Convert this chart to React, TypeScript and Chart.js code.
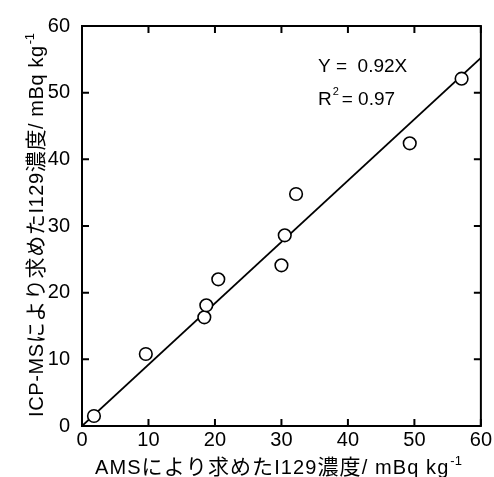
import { useEffect, useRef } from "react";
import { Chart, registerables } from "chart.js";

Chart.register(...registerables);

// ---- data ----
const amsValues = [1.8, 9.6, 18.4, 18.7, 20.5, 30.0, 30.5, 32.2, 49.3, 57.1];
const icpValues = [1.5, 10.8, 16.3, 18.1, 22.0, 24.1, 28.6, 34.8, 42.4, 52.1];
const tickValues = [0, 10, 20, 30, 40, 50, 60];
const axisRange = [0, 60];
const fitSlope = 0.92;
const fitLabel = "Y =  0.92X";
const r2Label = "0.97";
const fitLabelPos = [35.5, 53.1];
const r2LabelPos = [35.5, 48.1];

const LATIN = "'Liberation Sans', Arial, sans-serif";
const CJK = "'Noto Sans CJK JP', sans-serif";

type Part = { text: string; kind: "latin" | "cjk" | "sup" };

const xTitleParts: Part[] = [
  { text: "AMS", kind: "latin" },
  { text: "により求めた", kind: "cjk" },
  { text: "I129", kind: "latin" },
  { text: "濃度", kind: "cjk" },
  { text: "/ mBq kg", kind: "latin" },
  { text: "-1", kind: "sup" },
];
const yTitleParts: Part[] = [
  { text: "ICP-MS", kind: "latin" },
  { text: "により求めた", kind: "cjk" },
  { text: "I129", kind: "latin" },
  { text: "濃度", kind: "cjk" },
  { text: "/ mBq kg", kind: "latin" },
  { text: "-1", kind: "sup" },
];

function fontFor(kind: Part["kind"]) {
  if (kind === "cjk") return `21px ${CJK}`;
  if (kind === "sup") return `13px ${LATIN}`;
  return `20px ${LATIN}`;
}

// draws parts starting at `start`, spreading characters so the text spans `span` px
function drawParts(ctx: CanvasRenderingContext2D, parts: Part[], start: number, baseline: number, span: number) {
  const chars: { ch: string; kind: Part["kind"]; w: number }[] = [];
  parts.forEach((p) => {
    ctx.font = fontFor(p.kind);
    for (const ch of Array.from(p.text)) {
      chars.push({ ch, kind: p.kind, w: ctx.measureText(ch).width });
    }
  });
  const natural = chars.reduce((a, c) => a + c.w, 0);
  const extra = chars.length > 1 ? (span - natural) / (chars.length - 1) : 0;
  let x = start;
  ctx.textAlign = "left";
  ctx.textBaseline = "alphabetic";
  chars.forEach((c, i) => {
    ctx.font = fontFor(c.kind);
    const dy = c.kind === "sup" ? -9 : 0;
    const dx = c.kind === "sup" && i > 0 && chars[i - 1].kind !== "sup" ? 1 : 0;
    ctx.fillText(c.ch, x + dx, baseline + dy);
    x += c.w + extra;
  });
}

const framePlugin = {
  id: "frameTicks",
  beforeDatasetsDraw(chart: any) {
    const { ctx, chartArea: a, scales } = chart;
    ctx.save();
    ctx.strokeStyle = "#000";
    ctx.lineWidth = 2;
    ctx.strokeRect(a.left, a.top, a.right - a.left, a.bottom - a.top);
    const L = 7;
    ctx.beginPath();
    for (const v of tickValues) {
      const px = scales.x.getPixelForValue(v);
      ctx.moveTo(px, a.bottom);
      ctx.lineTo(px, a.bottom - L);
      ctx.moveTo(px, a.top);
      ctx.lineTo(px, a.top + L);
      const py = scales.y.getPixelForValue(v);
      ctx.moveTo(a.left, py);
      ctx.lineTo(a.left + L, py);
      ctx.moveTo(a.right, py);
      ctx.lineTo(a.right - L, py);
    }
    ctx.stroke();
    ctx.restore();
  },
  afterDraw(chart: any) {
    const { ctx, scales } = chart;
    ctx.save();
    ctx.fillStyle = "#000";
    // annotation
    ctx.font = `19px ${LATIN}`;
    ctx.textAlign = "left";
    ctx.textBaseline = "alphabetic";
    const fx = scales.x.getPixelForValue(fitLabelPos[0]);
    const fy = scales.y.getPixelForValue(fitLabelPos[1]);
    ctx.fillText(fitLabel, fx, fy);
    const rx = scales.x.getPixelForValue(r2LabelPos[0]);
    const ry = scales.y.getPixelForValue(r2LabelPos[1]);
    ctx.fillText("R", rx, ry);
    const rw = ctx.measureText("R").width;
    ctx.font = `11px ${LATIN}`;
    ctx.fillText("2", rx + rw + 1, ry - 10);
    ctx.font = `19px ${LATIN}`;
    ctx.fillText("= " + r2Label, rx + rw + 10, ry);
    // x title
    drawParts(ctx, xTitleParts, 95, 474, 367);
    // y title
    ctx.translate(43, 417);
    ctx.rotate(-Math.PI / 2);
    drawParts(ctx, yTitleParts, 0, 0, 384);
    ctx.restore();
  },
};

export default function App() {
  const ref = useRef<HTMLCanvasElement | null>(null);
  useEffect(() => {
    if (!ref.current) return;
    const points = amsValues.map((x, i) => ({ x, y: icpValues[i] }));
    const fitLine = axisRange.map((x) => ({ x, y: fitSlope * x }));
    const tickFont = { family: LATIN, size: 20 };
    const chart = new Chart(ref.current, {
      type: "scatter",
      data: {
        datasets: [
          {
            label: "data",
            data: points,
            pointRadius: 6.3,
            pointBackgroundColor: "#fff",
            pointBorderColor: "#000",
            pointBorderWidth: 1.6,
            showLine: false,
          },
          {
            label: "fit",
            data: fitLine,
            showLine: true,
            borderColor: "#000",
            borderWidth: 1.8,
            pointRadius: 0,
          } as any,
        ],
      },
      options: {
        animation: false,
        responsive: false,
        devicePixelRatio: 1,
        layout: { padding: { left: 0, top: 26, right: 12, bottom: 0 } },
        plugins: { legend: { display: false }, tooltip: { enabled: false } },
        scales: {
          x: {
            type: "linear",
            min: axisRange[0],
            max: axisRange[1],
            afterFit: (s: any) => {
              s.height = 51;
            },
            afterBuildTicks: (s: any) => {
              s.ticks = tickValues.map((v) => ({ value: v }));
            },
            grid: { display: false, drawTicks: false },
            border: { display: false },
            ticks: { color: "#000", font: tickFont, padding: 2, maxRotation: 0 },
          },
          y: {
            type: "linear",
            min: axisRange[0],
            max: axisRange[1],
            afterFit: (s: any) => {
              s.width = 82;
            },
            afterBuildTicks: (s: any) => {
              s.ticks = tickValues.map((v) => ({ value: v }));
            },
            grid: { display: false, drawTicks: false },
            border: { display: false },
            ticks: { color: "#000", font: tickFont, padding: 12 },
          },
        },
      },
      plugins: [framePlugin],
    });
    return () => chart.destroy();
  }, []);
  return (
    <div style={{ position: "fixed", left: 0, top: 0, width: 494, height: 477, background: "#fff" }}>
      <canvas ref={ref} width={494} height={477} style={{ width: 494, height: 477, display: "block" }} />
    </div>
  );
}
